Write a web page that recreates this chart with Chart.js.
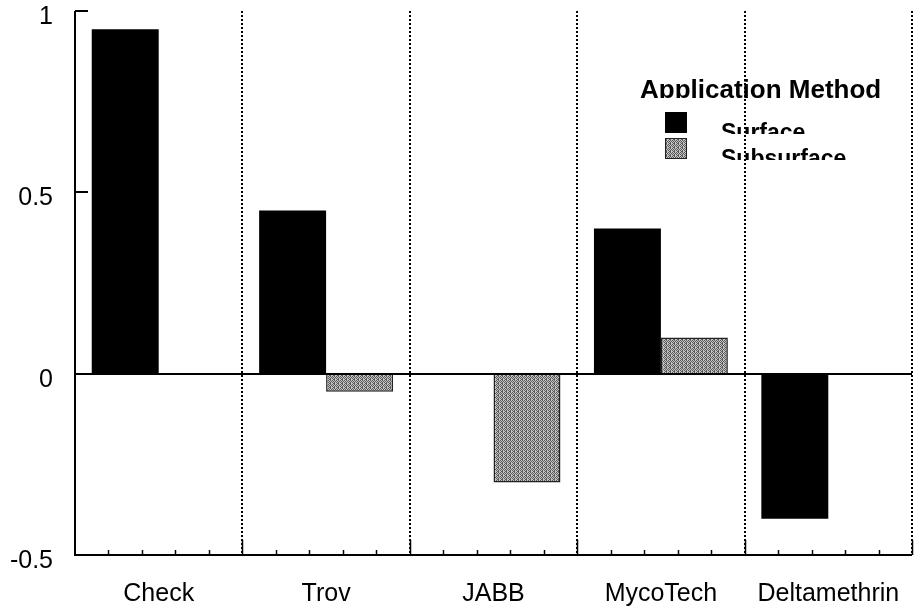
<!DOCTYPE html>
<html>
<head>
<meta charset="utf-8">
<title>Application Method</title>
<script src="https://cdn.jsdelivr.net/npm/chart.js@4.4.1/dist/chart.umd.min.js"></script>
<style>
    html, body { margin: 0; padding: 0; background: #fff; }
</style>
</head>
<body>
<canvas id="chart" width="914" height="610"></canvas>
<script>
// values
var categories = ['Check', 'Trov', 'JABB', 'MycoTech', 'Deltamethrin'];
var surface = [0.95, 0.45, null, 0.40, -0.40];
var subsurface = [null, -0.05, -0.30, 0.10, null];
var yTicks = [-0.5, 0, 0.5, 1];
var seriesNames = ['Surface', 'Subsurface'];
var legendTitle = 'Application Method';

var FONT = '"Liberation Sans", Arial, Helvetica, sans-serif';

/** grey halftone fill like the printed stipple */
function stipple() {
    var rows = [
        '#.#.',
        '.#.#',
        '#.#.',
        '.##.'
    ];
    var c = document.createElement('canvas');
    c.width = 4; c.height = 4;
    var g = c.getContext('2d');
    g.fillStyle = '#c4c4c4';
    g.fillRect(0, 0, 4, 4);
    g.fillStyle = '#5a5a5a';
    rows.forEach(function (r, y) {
        for (var x = 0; x < r.length; x++) {
            if (r[x] === '#') g.fillRect(x, y, 1, 1);
        }
    });
    return g.createPattern(c, 'repeat');
}
var subFill = stipple();

// axes frame, dotted separators, zero line, inward ticks
var framePlugin = {
    id: 'frame',
    afterDatasetsDraw: function (chart) {
        var ctx = chart.ctx, a = chart.chartArea;
        var xs = chart.scales.x, ys = chart.scales.y;
        var i, k, px, py;
        ctx.save();
        ctx.strokeStyle = '#000';

        ctx.lineWidth = 2;
        ctx.setLineDash([2, 2]);
        for (i = 1; i <= categories.length; i++) {
            px = Math.round(xs.getPixelForValue(i - 0.5));
            ctx.beginPath();
            ctx.moveTo(px, a.top);
            ctx.lineTo(px, a.bottom);
            ctx.stroke();
        }
        ctx.setLineDash([]);

        ctx.lineWidth = 2;
        py = Math.round(ys.getPixelForValue(0));
        ctx.beginPath();
        ctx.moveTo(a.left, py);
        ctx.lineTo(a.right, py);
        ctx.stroke();

        ctx.beginPath();
        ctx.moveTo(a.left, a.top);
        ctx.lineTo(a.left, a.bottom);
        ctx.lineTo(a.right, a.bottom);
        ctx.stroke();

        // y ticks point inward
        yTicks.forEach(function (v) {
            var ty = Math.round(ys.getPixelForValue(v));
            ctx.beginPath();
            ctx.moveTo(a.left, ty);
            ctx.lineTo(a.left + 13, ty);
            ctx.stroke();
        });

        // x ticks: major on boundaries, minor in between
        ctx.lineWidth = 1.5;
        for (i = 0; i < categories.length; i++) {
            for (k = 1; k <= 5; k++) {
                px = Math.round(xs.getPixelForValue(i - 0.5 + k / 5)) + 0.5;
                ctx.beginPath();
                ctx.moveTo(px, a.bottom);
                ctx.lineTo(px, a.bottom - (k === 5 ? 15 : 5));
                ctx.stroke();
            }
        }
        ctx.restore();
    }
};

// legend block in the upper right, text cut at the bottom like the scan
var legendPlugin = {
    id: 'boxLegend',
    afterDraw: function (chart) {
        var ctx = chart.ctx;
        var fills = ['#000', subFill];
        ctx.save();
        ctx.fillStyle = '#000';
        ctx.textBaseline = 'alphabetic';
        ctx.font = 'bold 26px ' + FONT;
        ctx.save();
        ctx.beginPath();
        ctx.rect(600, 60, 314, 38);
        ctx.clip();
        ctx.fillText(legendTitle, 640, 98);
        ctx.restore();

        ctx.font = 'bold 23px ' + FONT;
        seriesNames.forEach(function (name, i) {
            var top = 112 + i * 26;
            ctx.fillStyle = fills[i];
            ctx.fillRect(665, top, 22, 21);
            if (i === 1) {
                ctx.strokeStyle = '#222';
                ctx.lineWidth = 1;
                ctx.strokeRect(665.5, top + 0.5, 21, 20);
            }
            ctx.save();
            ctx.beginPath();
            ctx.rect(700, top, 200, 22);
            ctx.clip();
            ctx.fillStyle = '#000';
            ctx.fillText(name, 721, top + 28);
            ctx.restore();
        });
        ctx.restore();
    }
};

new Chart(document.getElementById('chart').getContext('2d'), {
    type: 'bar',
    data: {
        labels: categories,
        datasets: [{
            label: seriesNames[0],
            data: surface,
            backgroundColor: '#000',
            borderWidth: 0,
            categoryPercentage: 0.8,
            barPercentage: 1.0
        }, {
            label: seriesNames[1],
            data: subsurface,
            backgroundColor: subFill,
            borderColor: '#222',
            borderWidth: 1.5,
            categoryPercentage: 0.8,
            barPercentage: 1.0
        }]
    },
    options: {
        responsive: false,
        animation: false,
        events: [],
        layout: { padding: { top: 11, right: 2, left: 0, bottom: 0 } },
        plugins: {
            legend: { display: false },
            tooltip: { enabled: false }
        },
        scales: {
            x: {
                grid: { display: false, drawTicks: false },
                border: { display: false },
                ticks: {
                    color: '#000',
                    font: { family: FONT, size: 25 },
                    padding: 24,
                    maxRotation: 0
                },
                afterFit: function (s) {
                    s.height = 55;
                    s.paddingLeft = 0;
                    s.paddingRight = 0;
                }
            },
            y: {
                min: -0.5,
                max: 1,
                grid: { display: false, drawTicks: false },
                border: { display: false },
                ticks: {
                    stepSize: 0.5,
                    color: '#000',
                    font: { family: FONT, size: 25 },
                    padding: 22,
                    labelOffset: 6,
                    callback: function (v) { return String(v); }
                },
                afterFit: function (s) {
                    s.width = 75;
                    s.paddingTop = 0;
                    s.paddingBottom = 0;
                }
            }
        }
    },
    plugins: [framePlugin, legendPlugin]
});
</script>
</body>
</html>
